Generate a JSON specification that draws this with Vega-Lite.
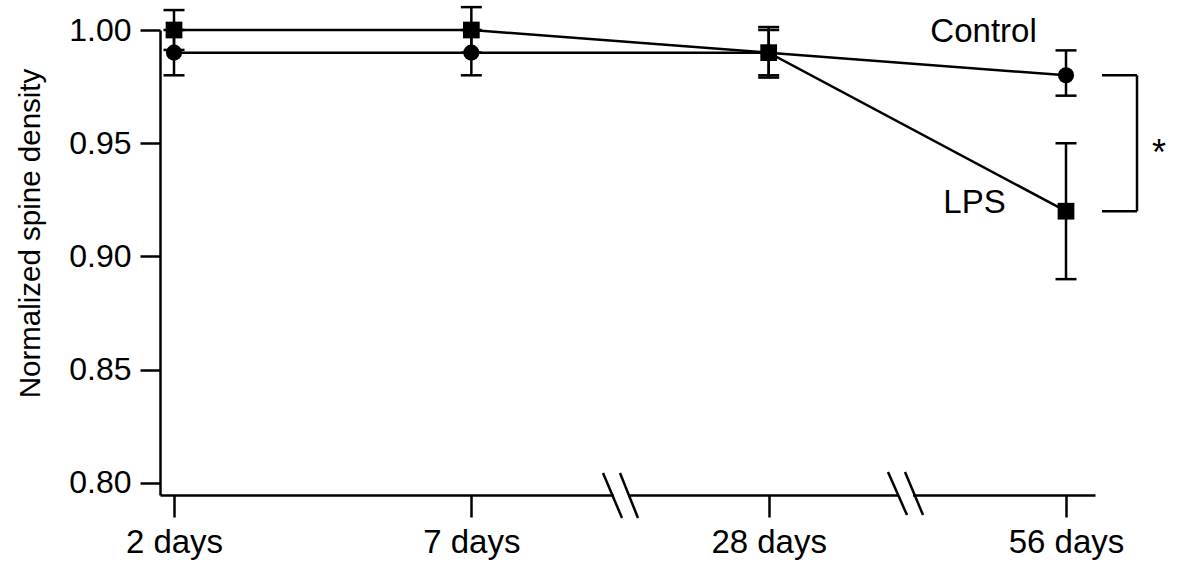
{
  "$schema": "https://vega.github.io/schema/vega-lite/v6.json",
  "width": 935,
  "height": 465,
  "autosize": {"type": "none"},
  "padding": {"left": 160, "top": 30, "right": 105, "bottom": 75},
  "background": "white",
  "config": {
    "view": {"stroke": null},
    "font": "Liberation Sans",
    "axis": {
      "domainColor": "black", "domainWidth": 2.5, "tickColor": "black", "tickWidth": 2.5,
      "labelColor": "black", "titleColor": "black", "labelFont": "Liberation Sans", "titleFont": "Liberation Sans",
      "grid": false
    }
  },
  "datasets": {
    "pts": [
      {"series": "Control", "x": 0, "label": "2 days", "y": 0.99, "lo": 0.98, "hi": 1.0},
      {"series": "Control", "x": 1, "label": "7 days", "y": 0.99, "lo": 0.98, "hi": 1.0},
      {"series": "Control", "x": 2, "label": "28 days", "y": 0.99, "lo": 0.98, "hi": 1.0},
      {"series": "Control", "x": 3, "label": "56 days", "y": 0.98, "lo": 0.971, "hi": 0.991},
      {"series": "LPS", "x": 0, "label": "2 days", "y": 1.0, "lo": 0.9912, "hi": 1.0088},
      {"series": "LPS", "x": 1, "label": "7 days", "y": 1.0, "lo": 0.99, "hi": 1.0101},
      {"series": "LPS", "x": 2, "label": "28 days", "y": 0.99, "lo": 0.979, "hi": 1.0013},
      {"series": "LPS", "x": 3, "label": "56 days", "y": 0.92, "lo": 0.89, "hi": 0.95}
    ],
    "shapes": [
      {"kind": "gap", "x": 1.480, "x2": 1.527, "y": 0.7947, "y2": 0.7947},
      {"kind": "gap", "x": 2.435, "x2": 2.4855, "y": 0.7947, "y2": 0.7947},
      {"kind": "line", "x": 1.4428, "x2": 1.5067, "y": 0.80442, "y2": 0.78455},
      {"kind": "line", "x": 1.5000, "x2": 1.5605, "y": 0.80442, "y2": 0.78455},
      {"kind": "line", "x": 2.4013, "x2": 2.4652, "y": 0.80486, "y2": 0.78587},
      {"kind": "line", "x": 2.4585, "x2": 2.5191, "y": 0.80486, "y2": 0.78587},
      {"kind": "line", "x": 3.1211, "x2": 3.2388, "y": 0.98, "y2": 0.98},
      {"kind": "line", "x": 3.1211, "x2": 3.2388, "y": 0.92, "y2": 0.92},
      {"kind": "line", "x": 3.2388, "x2": 3.2388, "y": 0.92, "y2": 0.98}
    ],
    "labels": [
      {"text": "Control", "x": 2.7226, "y": 0.9947},
      {"text": "LPS", "x": 2.6923, "y": 0.9192}
    ],
    "star": [
      {"text": "*", "x": 3.3128, "y": 0.9405}
    ]
  },
  "layer": [
    {
      "data": {"name": "pts"},
      "mark": {"type": "line", "color": "black", "strokeWidth": 2.5},
      "encoding": {
        "x": {
          "field": "x", "type": "quantitative",
          "scale": {"domain": [-0.0471, 3.0975], "nice": false, "zero": false},
          "axis": {
            "values": [0, 1, 2, 3], "title": null, "tickSize": 22, "labelPadding": 9,
            "labelFontSize": 33, "labelFlush": false,
            "labelExpr": "['2 days','7 days','28 days','56 days'][datum.value]"
          }
        },
        "y": {
          "field": "y", "type": "quantitative",
          "scale": {"domain": [0.7947, 1.0], "nice": false, "zero": false},
          "axis": {
            "values": [0.8, 0.85, 0.9, 0.95, 1.0], "format": ".2f", "tickSize": 20, "labelPadding": 9,
            "labelFontSize": 32, "title": "Normalized spine density", "titleFontSize": 29.5,
            "titleFontWeight": "normal", "titleX": -130, "titleY": 203, "titleBaseline": "middle",
            "titleAngle": -90, "titleAlign": "center", "labelFlush": false
          }
        },
        "detail": {"field": "series"}
      }
    },
    {
      "data": {"name": "pts"},
      "mark": {"type": "rule", "color": "black", "strokeWidth": 2.5},
      "encoding": {
        "x": {"field": "x", "type": "quantitative"},
        "y": {"field": "lo", "type": "quantitative"},
        "y2": {"field": "hi"}
      }
    },
    {
      "data": {"name": "pts"},
      "mark": {"type": "tick", "orient": "horizontal", "color": "black", "size": 21, "thickness": 2.5, "opacity": 1},
      "encoding": {
        "x": {"field": "x", "type": "quantitative"},
        "y": {"field": "lo", "type": "quantitative"}
      }
    },
    {
      "data": {"name": "pts"},
      "mark": {"type": "tick", "orient": "horizontal", "color": "black", "size": 21, "thickness": 2.5, "opacity": 1},
      "encoding": {
        "x": {"field": "x", "type": "quantitative"},
        "y": {"field": "hi", "type": "quantitative"}
      }
    },
    {
      "data": {"name": "pts"},
      "transform": [{"filter": "datum.series == 'Control'"}],
      "mark": {"type": "point", "shape": "circle", "filled": true, "color": "black", "size": 260, "opacity": 1},
      "encoding": {
        "x": {"field": "x", "type": "quantitative"},
        "y": {"field": "y", "type": "quantitative"}
      }
    },
    {
      "data": {"name": "pts"},
      "transform": [{"filter": "datum.series == 'LPS'"}],
      "mark": {"type": "point", "shape": "square", "filled": true, "color": "black", "size": 280, "opacity": 1},
      "encoding": {
        "x": {"field": "x", "type": "quantitative"},
        "y": {"field": "y", "type": "quantitative"}
      }
    },
    {
      "data": {"name": "shapes"},
      "transform": [{"filter": "datum.kind == 'gap'"}],
      "mark": {"type": "rule", "color": "white", "strokeWidth": 6},
      "encoding": {
        "x": {"field": "x", "type": "quantitative"},
        "x2": {"field": "x2"},
        "y": {"field": "y", "type": "quantitative"},
        "y2": {"field": "y2"}
      }
    },
    {
      "data": {"name": "shapes"},
      "transform": [{"filter": "datum.kind == 'line'"}],
      "mark": {"type": "rule", "color": "black", "strokeWidth": 2.5},
      "encoding": {
        "x": {"field": "x", "type": "quantitative"},
        "x2": {"field": "x2"},
        "y": {"field": "y", "type": "quantitative"},
        "y2": {"field": "y2"}
      }
    },
    {
      "data": {"name": "labels"},
      "mark": {"type": "text", "color": "black", "fontSize": 33, "align": "center", "baseline": "alphabetic", "font": "Liberation Sans"},
      "encoding": {
        "x": {"field": "x", "type": "quantitative"},
        "y": {"field": "y", "type": "quantitative"},
        "text": {"field": "text"}
      }
    },
    {
      "data": {"name": "star"},
      "mark": {"type": "text", "color": "black", "fontSize": 36, "align": "center", "baseline": "alphabetic", "font": "Liberation Sans"},
      "encoding": {
        "x": {"field": "x", "type": "quantitative"},
        "y": {"field": "y", "type": "quantitative"},
        "text": {"field": "text"}
      }
    }
  ]
}
